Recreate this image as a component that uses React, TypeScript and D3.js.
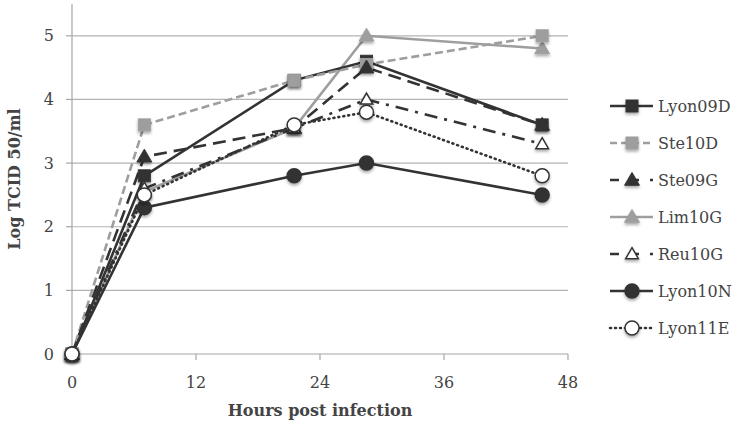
import * as d3 from "d3";

const hours = [0, 7, 21.5, 28.5, 45.5];
const xTicks = [0, 12, 24, 36, 48];
const yTicks = [0, 1, 2, 3, 4, 5];

const lyon09D = [0, 2.8, 4.3, 4.6, 3.6];
const ste10D = [0, 3.6, 4.3, 4.55, 5.0];
const ste09G = [0, 3.1, 3.55, 4.5, 3.6];
const lim10G = [0, 2.55, 3.55, 5.0, 4.8];
const reu10G = [0, 2.6, 3.55, 4.0, 3.3];
const lyon10N = [0, 2.3, 2.8, 3.0, 2.5];
const lyon11E = [0, 2.5, 3.6, 3.8, 2.8];

const DARK = "#333333";
const LIGHT = "#9e9e9e";

type Series = {
  name: string;
  values: number[];
  color: string;
  dash: string;
  marker: "square" | "triangle" | "circle";
  fill: string;
};

const series: Series[] = [
  { name: "Lim10G", values: lim10G, color: LIGHT, dash: "", marker: "triangle", fill: LIGHT },
  { name: "Lyon09D", values: lyon09D, color: DARK, dash: "", marker: "square", fill: DARK },
  { name: "Ste10D", values: ste10D, color: LIGHT, dash: "8,4", marker: "square", fill: LIGHT },
  { name: "Ste09G", values: ste09G, color: DARK, dash: "13,7", marker: "triangle", fill: DARK },
  { name: "Reu10G", values: reu10G, color: DARK, dash: "13,7,3,7", marker: "triangle", fill: "#fff" },
  { name: "Lyon10N", values: lyon10N, color: DARK, dash: "", marker: "circle", fill: DARK },
  { name: "Lyon11E", values: lyon11E, color: DARK, dash: "1,4", marker: "circle", fill: "#fff" },
];

const legendOrder = ["Lyon09D", "Ste10D", "Ste09G", "Lim10G", "Reu10G", "Lyon10N", "Lyon11E"];

const width = 739;
const height = 426;
const margin = { left: 72, right: 171, top: 4, bottom: 72 };

function Marker({ s, x, y }: { s: Series; x: number; y: number }) {
  const stroke = s.fill === "#fff" ? DARK : s.fill;
  if (s.marker === "square") {
    return <rect x={x - 6} y={y - 6} width={12} height={12} fill={s.fill} stroke={stroke} strokeWidth={1} />;
  }
  if (s.marker === "triangle") {
    const sym = d3.symbol().type(d3.symbolTriangle).size(s.fill === "#fff" ? 70 : 95)();
    return <path d={sym || ""} transform={`translate(${x},${y + 1})`} fill={s.fill} stroke={stroke} strokeWidth={s.fill === "#fff" ? 1.5 : 1} />;
  }
  return <circle cx={x} cy={y} r={7} fill={s.fill} stroke={stroke} strokeWidth={1.5} />;
}

export default function App() {
  const x = d3.scaleLinear().domain([0, 48]).range([margin.left, width - margin.right]);
  const y = d3.scaleLinear().domain([0, 5.5]).range([height - margin.bottom, margin.top]);
  const line = d3
    .line<number>()
    .x((_, i) => x(hours[i]))
    .y((d) => y(d));

  const fontSerif = "'DejaVu Serif', serif";
  const legendX = 610;
  const legendY = 106;
  const legendStep = 37;

  return (
    <svg width={width} height={height} style={{ position: "absolute", left: 0, top: 0 }} fontFamily={fontSerif}>
      <defs>
        <filter id="shadow" x="-50%" y="-50%" width="200%" height="200%">
          <feDropShadow dx="0" dy="2" stdDeviation="1.5" floodColor="#000" floodOpacity="0.35" />
        </filter>
      </defs>
      <rect width={width} height={height} fill="#fff" />

      {/* gridlines */}
      {yTicks.slice(1).map((t) => (
        <line key={t} x1={x(0)} x2={x(48)} y1={y(t)} y2={y(t)} stroke="#b3b3b3" strokeWidth={1.2} />
      ))}

      {/* axes */}
      <line x1={x(0)} x2={x(0)} y1={y(5.5)} y2={y(0)} stroke="#a6a6a6" strokeWidth={1.2} />
      <line x1={x(0)} x2={x(48)} y1={y(0)} y2={y(0)} stroke="#a6a6a6" strokeWidth={1.2} />
      {yTicks.map((t) => (
        <g key={t}>
          <line x1={x(0) - 6} x2={x(0)} y1={y(t)} y2={y(t)} stroke="#a6a6a6" strokeWidth={1.2} />
          <text x={54} y={y(t)} dy="0.35em" textAnchor="end" fontSize={16} fill="#444">
            {t}
          </text>
        </g>
      ))}
      {xTicks.map((t) => (
        <g key={t}>
          <line x1={x(t)} x2={x(t)} y1={y(0)} y2={y(0) + 6} stroke="#a6a6a6" strokeWidth={1.2} />
          <text x={x(t)} y={388} textAnchor="middle" fontSize={16} fill="#444">
            {t}
          </text>
        </g>
      ))}

      <text x={x(24)} y={416} textAnchor="middle" fontSize={16} fontWeight="bold" fill="#444">
        Hours post infection
      </text>
      <text
        transform={`translate(20,${y(2.75)}) rotate(-90)`}
        textAnchor="middle"
        fontSize={16}
        fontWeight="bold"
        fill="#444"
      >
        Log TCID 50/ml
      </text>

      {/* lines */}
      {series.map((s) => (
        <path
          key={s.name}
          d={line(s.values) || ""}
          fill="none"
          stroke={s.color}
          strokeWidth={2.6}
          strokeDasharray={s.dash}
          strokeLinecap={s.dash === "1,4" ? "round" : "butt"}
        />
      ))}

      {/* markers */}
      {series.map((s) => (
        <g key={s.name} filter="url(#shadow)">
          {s.values.map((v, i) => (
            <Marker key={i} s={s} x={x(hours[i])} y={y(v)} />
          ))}
        </g>
      ))}

      {/* legend */}
      {legendOrder.map((name, i) => {
        const s = series.find((d) => d.name === name)!;
        const ly = legendY + i * legendStep;
        return (
          <g key={s.name}>
            <line
              x1={legendX}
              x2={legendX + 43}
              y1={ly}
              y2={ly}
              stroke={s.color}
              strokeWidth={2.6}
              strokeDasharray={s.dash === "" ? "" : s.dash === "1,4" ? "1,4" : s.dash === "8,4" ? "7,4" : "9,11"}
              strokeLinecap={s.dash === "1,4" ? "round" : "butt"}
            />
            <g filter="url(#shadow)">
              <Marker s={s} x={legendX + 22} y={ly} />
            </g>
            <text x={658} y={ly} dy="0.35em" fontSize={16} fill="#444">
              {s.name}
            </text>
          </g>
        );
      })}
    </svg>
  );
}
